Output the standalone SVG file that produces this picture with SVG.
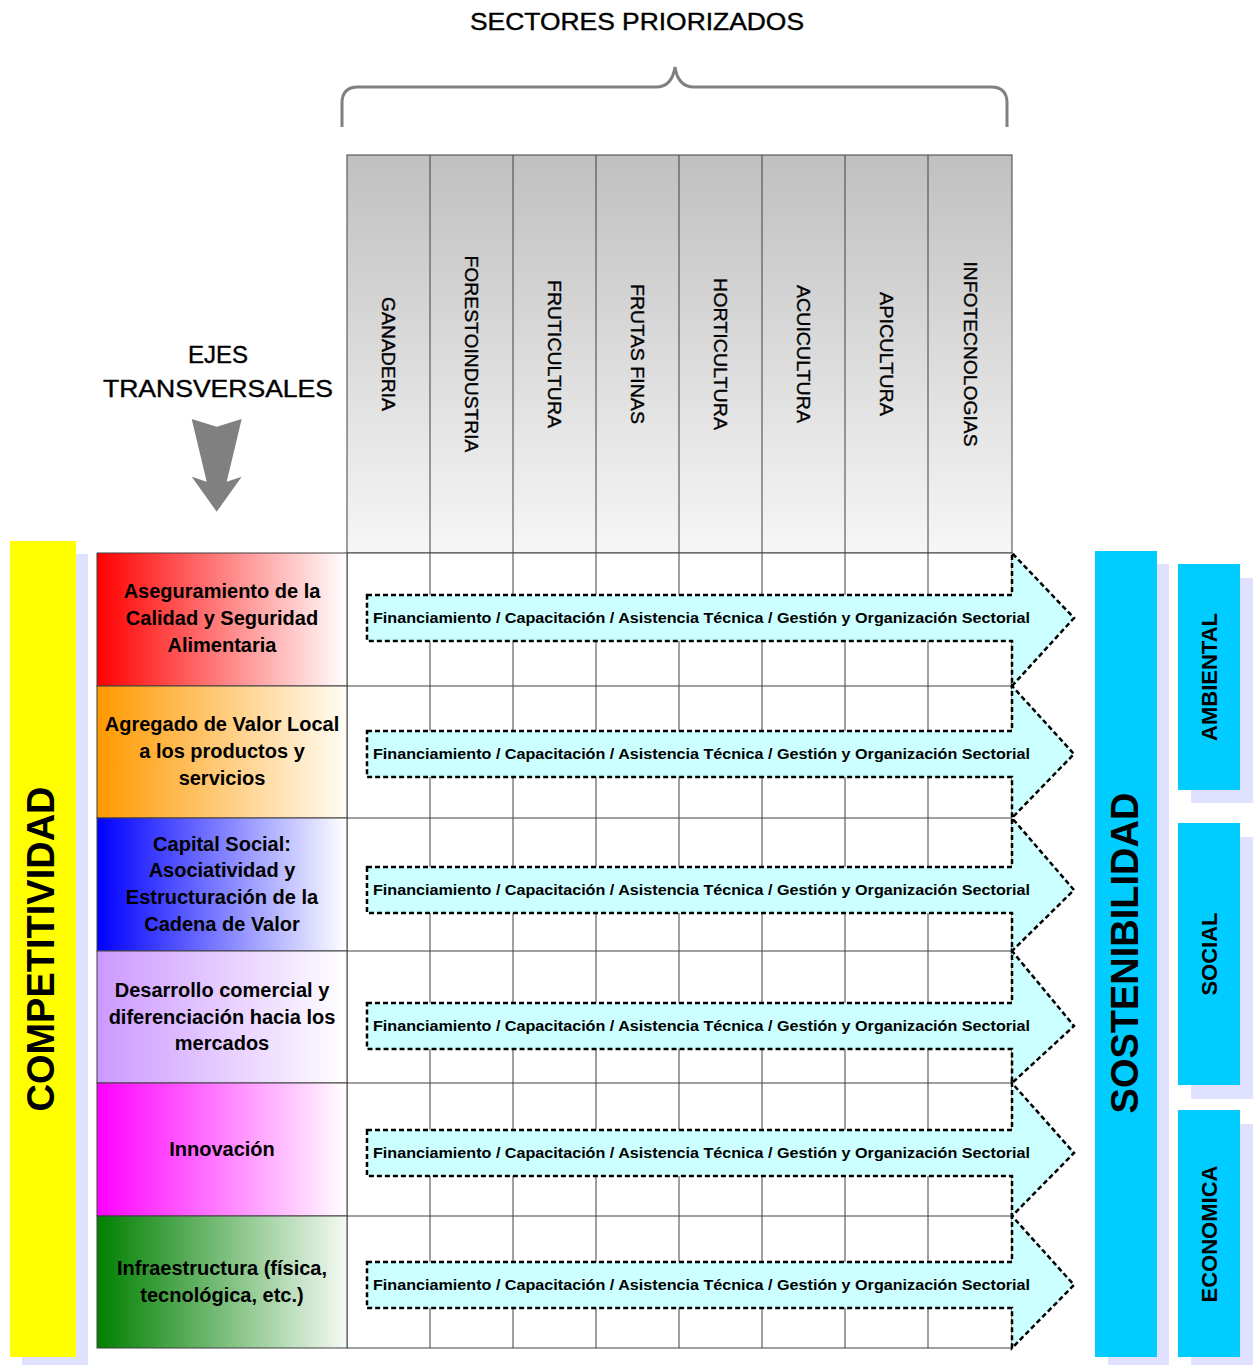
<svg xmlns="http://www.w3.org/2000/svg" width="1258" height="1365" viewBox="0 0 1258 1365">
<style>
.t{font-family:"Liberation Sans",Arial,sans-serif;fill:#000}
.h{font-size:24px;stroke:#000;stroke-width:0.4}
.col{font-size:19px;dominant-baseline:central;text-anchor:middle;stroke:#000;stroke-width:0.35}
.lab{font-size:20px;font-weight:bold;text-anchor:middle}
.fin{font-size:15.5px;font-weight:bold}
.big{font-size:38px;font-weight:bold;text-anchor:middle;dominant-baseline:central}
.sm{font-size:22px;font-weight:bold;text-anchor:middle;dominant-baseline:central}
.grid{stroke:#404040;stroke-width:1;fill:none}
.arr{fill:#ccffff;stroke:#000;stroke-width:2.5;stroke-dasharray:5 3;stroke-linejoin:miter}
.sh{fill:#e0e0ff}
.cy{fill:#00ccff}
</style>
<defs>
<linearGradient id="gHead" x1="0" y1="0" x2="0" y2="1"><stop offset="0" stop-color="#c0c0c0"/><stop offset="1" stop-color="#f6f6f6"/></linearGradient>
<linearGradient id="gRed" x1="0" y1="0" x2="1" y2="0"><stop offset="0" stop-color="#ff0000"/><stop offset="1" stop-color="#ffffff"/></linearGradient>
<linearGradient id="gOra" x1="0" y1="0" x2="1" y2="0"><stop offset="0" stop-color="#ff9900"/><stop offset="1" stop-color="#fffdf5"/></linearGradient>
<linearGradient id="gBlu" x1="0" y1="0" x2="1" y2="0"><stop offset="0" stop-color="#0000ff"/><stop offset="1" stop-color="#ffffff"/></linearGradient>
<linearGradient id="gPur" x1="0" y1="0" x2="1" y2="0"><stop offset="0" stop-color="#cc99ff"/><stop offset="1" stop-color="#ffffff"/></linearGradient>
<linearGradient id="gMag" x1="0" y1="0" x2="1" y2="0"><stop offset="0" stop-color="#ff00ff"/><stop offset="1" stop-color="#ffffff"/></linearGradient>
<linearGradient id="gGre" x1="0" y1="0" x2="1" y2="0"><stop offset="0" stop-color="#008000"/><stop offset="1" stop-color="#f4faf4"/></linearGradient>
</defs>
<rect width="1258" height="1365" fill="#ffffff"/>

<g id="title">
<text class="t h" x="470" y="30" textLength="334" lengthAdjust="spacingAndGlyphs">SECTORES PRIORIZADOS</text>
</g>
<g id="brace">
<path d="M342,127 V103 Q342,87 358,87 H656 Q672,87 675,67 Q678,87 694,87 H991 Q1007,87 1007,103 V127" fill="none" stroke="#808080" stroke-width="3"/>
</g>

<g id="ejes">
<text class="t h" x="218" y="363" text-anchor="middle">EJES</text>
<text class="t h" x="218" y="397" text-anchor="middle" textLength="230" lengthAdjust="spacingAndGlyphs">TRANSVERSALES</text>
<polygon points="191.7,419 216.7,426.7 241.7,419 226.7,481.7 241.7,476.7 216.7,511.7 191.7,476.7 206.7,481.7" fill="#808080"/>
</g>

<g id="header">
<rect x="347" y="155" width="665" height="398" fill="url(#gHead)" stroke="#404040"/>
<path class="grid" d="M430,155V553M513,155V553M596,155V553M679,155V553M762,155V553M845,155V553M928,155V553"/>
<text class="t col" transform="translate(388.5,354) rotate(90)" textLength="114" lengthAdjust="spacingAndGlyphs">GANADERIA</text>
<text class="t col" transform="translate(471.5,354) rotate(90)" textLength="197" lengthAdjust="spacingAndGlyphs">FORESTOINDUSTRIA</text>
<text class="t col" transform="translate(554.5,354) rotate(90)" textLength="148" lengthAdjust="spacingAndGlyphs">FRUTICULTURA</text>
<text class="t col" transform="translate(637.5,354) rotate(90)" textLength="140" lengthAdjust="spacingAndGlyphs">FRUTAS FINAS</text>
<text class="t col" transform="translate(720.5,354) rotate(90)" textLength="152" lengthAdjust="spacingAndGlyphs">HORTICULTURA</text>
<text class="t col" transform="translate(803.5,354) rotate(90)" textLength="138" lengthAdjust="spacingAndGlyphs">ACUICULTURA</text>
<text class="t col" transform="translate(886.5,354) rotate(90)" textLength="124" lengthAdjust="spacingAndGlyphs">APICULTURA</text>
<text class="t col" transform="translate(970,354) rotate(90)" textLength="185" lengthAdjust="spacingAndGlyphs">INFOTECNOLOGIAS</text>
</g>

<g id="competitividad">
<rect class="sh" x="22" y="554" width="66" height="811"/>
<rect x="10" y="541" width="66" height="816" fill="#ffff00"/>
<text class="t big" transform="translate(41,949) rotate(-90)">COMPETITIVIDAD</text>
</g>

<g id="grid">
<rect x="347" y="553" width="665" height="795" fill="#ffffff" stroke="#404040"/>
<path class="grid" d="M430,553V1348M513,553V1348M596,553V1348M679,553V1348M762,553V1348M845,553V1348M928,553V1348M347,686H1012M347,818H1012M347,951H1012M347,1083H1012M347,1216H1012"/>
</g>

<g id="eje1">
<rect x="97" y="553" width="250" height="133" fill="url(#gRed)" stroke="#404040"/>
<text class="t lab" x="222" y="598">Aseguramiento de la</text>
<text class="t lab" x="222" y="625">Calidad y Seguridad</text>
<text class="t lab" x="222" y="652">Alimentaria</text>
</g>
<g id="eje2">
<rect x="97" y="686" width="250" height="132" fill="url(#gOra)" stroke="#404040"/>
<text class="t lab" x="222" y="731">Agregado de Valor Local</text>
<text class="t lab" x="222" y="758">a los productos y</text>
<text class="t lab" x="222" y="785">servicios</text>
</g>
<g id="eje3">
<rect x="97" y="818" width="250" height="133" fill="url(#gBlu)" stroke="#404040"/>
<text class="t lab" x="222" y="851">Capital Social:</text>
<text class="t lab" x="222" y="877">Asociatividad y</text>
<text class="t lab" x="222" y="904">Estructuración de la</text>
<text class="t lab" x="222" y="931">Cadena de Valor</text>
</g>
<g id="eje4">
<rect x="97" y="951" width="250" height="132" fill="url(#gPur)" stroke="#404040"/>
<text class="t lab" x="222" y="997">Desarrollo comercial y</text>
<text class="t lab" x="222" y="1024">diferenciación hacia los</text>
<text class="t lab" x="222" y="1050">mercados</text>
</g>
<g id="eje5">
<rect x="97" y="1083" width="250" height="133" fill="url(#gMag)" stroke="#404040"/>
<text class="t lab" x="222" y="1156">Innovación</text>
</g>
<g id="eje6">
<rect x="97" y="1216" width="250" height="132" fill="url(#gGre)" stroke="#404040"/>
<text class="t lab" x="222" y="1275">Infraestructura (física,</text>
<text class="t lab" x="222" y="1302">tecnológica, etc.)</text>
</g>

<g id="connectors">
<polygon class="arr" points="367,595 1012,595 1012,553 1074,618 1012,686 1012,641 367,641"/>
<polygon class="arr" points="367,731 1012,731 1012,686 1074,754 1012,818 1012,777 367,777"/>
<polygon class="arr" points="367,867 1012,867 1012,818 1074,890 1012,951 1012,913 367,913"/>
<polygon class="arr" points="367,1003 1012,1003 1012,951 1074,1026 1012,1083 1012,1049 367,1049"/>
<polygon class="arr" points="367,1130 1012,1130 1012,1083 1074,1153 1012,1216 1012,1176 367,1176"/>
<polygon class="arr" points="367,1262 1012,1262 1012,1216 1074,1285 1012,1348 1012,1308 367,1308"/>
<text class="t fin" x="373" y="623" textLength="657" lengthAdjust="spacingAndGlyphs">Financiamiento / Capacitación / Asistencia Técnica / Gestión y Organización Sectorial</text>
<text class="t fin" x="373" y="759" textLength="657" lengthAdjust="spacingAndGlyphs">Financiamiento / Capacitación / Asistencia Técnica / Gestión y Organización Sectorial</text>
<text class="t fin" x="373" y="895" textLength="657" lengthAdjust="spacingAndGlyphs">Financiamiento / Capacitación / Asistencia Técnica / Gestión y Organización Sectorial</text>
<text class="t fin" x="373" y="1031" textLength="657" lengthAdjust="spacingAndGlyphs">Financiamiento / Capacitación / Asistencia Técnica / Gestión y Organización Sectorial</text>
<text class="t fin" x="373" y="1158" textLength="657" lengthAdjust="spacingAndGlyphs">Financiamiento / Capacitación / Asistencia Técnica / Gestión y Organización Sectorial</text>
<text class="t fin" x="373" y="1290" textLength="657" lengthAdjust="spacingAndGlyphs">Financiamiento / Capacitación / Asistencia Técnica / Gestión y Organización Sectorial</text>
</g>

<g id="sostenibilidad">
<rect class="sh" x="1108" y="564" width="61" height="801"/>
<rect class="cy" x="1095" y="551" width="62" height="806"/>
<text class="t big" transform="translate(1125,953) rotate(-90)">SOSTENIBILIDAD</text>
</g>
<g id="ambiental">
<rect class="sh" x="1191" y="578" width="62" height="225"/>
<rect class="cy" x="1178" y="564" width="62" height="226"/>
<text class="t sm" transform="translate(1209,677) rotate(-90)">AMBIENTAL</text>
</g>
<g id="social">
<rect class="sh" x="1191" y="837" width="62" height="262"/>
<rect class="cy" x="1178" y="823" width="62" height="262"/>
<text class="t sm" transform="translate(1209,954) rotate(-90)">SOCIAL</text>
</g>
<g id="economica">
<rect class="sh" x="1191" y="1124" width="62" height="241"/>
<rect class="cy" x="1178" y="1110" width="62" height="247"/>
<text class="t sm" transform="translate(1209,1234) rotate(-90)">ECONOMICA</text>
</g>
</svg>
